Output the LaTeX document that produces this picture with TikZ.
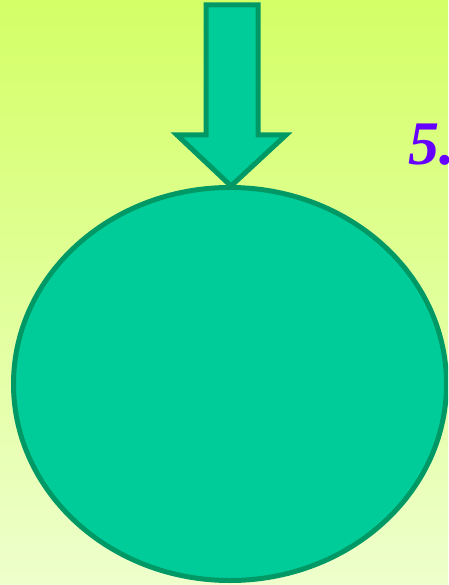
\documentclass[tikz,border=0pt]{standalone}
\usepackage{fontspec}
\setmainfont{Liberation Serif}
\usetikzlibrary{shapes.geometric}
\begin{document}
\begin{tikzpicture}[x=1pt,y=-1pt,
  shapeline/.style={draw=arrowedge,line width=5pt,fill=arrowfill,line join=miter}]
\definecolor{bgtop}{HTML}{D4FF66}
\definecolor{bgbot}{HTML}{EEFFCC}
\definecolor{arrowfill}{HTML}{00CC99}
\definecolor{arrowedge}{HTML}{009966}
\definecolor{numcol}{HTML}{6600FF}
\clip (0,0) rectangle (448,585);
\useasboundingbox (0,0) rectangle (448,585);
\shade[top color=bgtop,bottom color=bgbot] (0,0) rectangle (448,585);
\draw[shapeline] (206,5) -- (258,5) -- (258,135) -- (286,135) -- (231,186) -- (177,135) -- (206,135) -- cycle;
\node[shapeline,ellipse,minimum width=433pt,minimum height=393pt,inner sep=0pt] (e) at (230,384) {};
\node[anchor=base west,inner sep=0pt,text=numcol,font=\fontsize{62}{62}\selectfont\bfseries\itshape] (t) at (408,165) {5.};
\end{tikzpicture}
\end{document}
